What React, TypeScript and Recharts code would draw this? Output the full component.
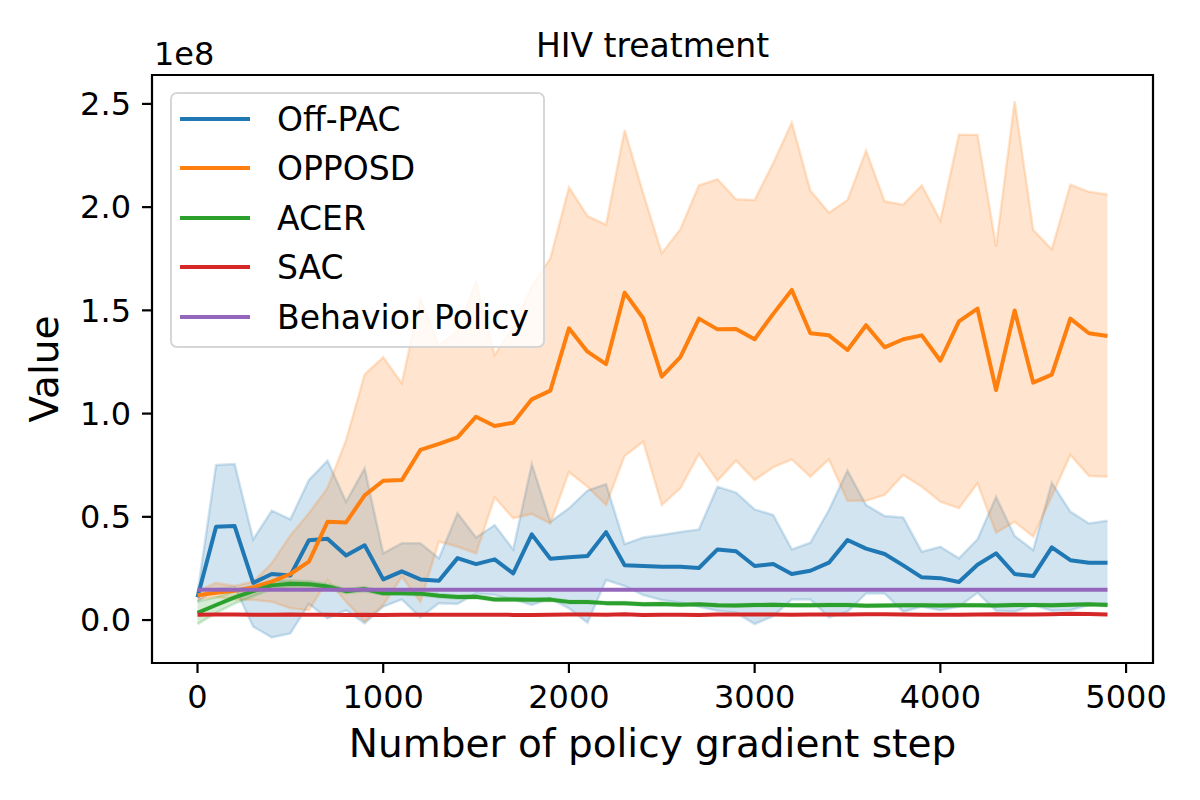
import React from 'react';
import {
  ComposedChart,
  Area,
  Line,
  XAxis,
  YAxis,
  ReferenceArea,
  ReferenceLine,
  Legend,
} from 'recharts';

// values in units of 1e8
const steps = [
  0, 100, 200, 300, 400, 500, 600, 700, 800, 900,
  1000, 1100, 1200, 1300, 1400, 1500, 1600, 1700, 1800, 1900,
  2000, 2100, 2200, 2300, 2400, 2500, 2600, 2700, 2800, 2900,
  3000, 3100, 3200, 3300, 3400, 3500, 3600, 3700, 3800, 3900,
  4000, 4100, 4200, 4300, 4400, 4500, 4600, 4700, 4800, 4900,
];

const offPacMean = [
  0.11, 0.452, 0.455, 0.18, 0.223, 0.216, 0.387, 0.394, 0.313, 0.362,
  0.197, 0.236, 0.197, 0.19, 0.3, 0.271, 0.294, 0.226, 0.415, 0.297,
  0.304, 0.31, 0.426, 0.265, 0.262, 0.258, 0.258, 0.252, 0.342, 0.333,
  0.262, 0.271, 0.223, 0.239, 0.278, 0.388, 0.346, 0.32, 0.265, 0.207,
  0.203, 0.184, 0.268, 0.323, 0.223, 0.213, 0.352, 0.29, 0.278, 0.278,
];
const offPacLow = [
  0.09, 0.15, 0.16, -0.032, -0.084, -0.065, 0.078, 0.008, 0.048, -0.016,
  0.065, 0.1, 0.013, 0.081, 0.078, 0.129, 0.121, 0.1, 0.073, 0.105,
  0.057, -0.013, 0.194, 0.165, 0.121, 0.097, 0.084, 0.065, 0.045, 0.036,
  -0.019, 0.019, 0.1, 0.1, 0.013, 0.04, 0.129, 0.129, 0.04, 0.065,
  0.048, 0.065, 0.132, 0.045, 0.04, 0.073, 0.045, 0.048, 0.073, 0.081,
];
const offPacHigh = [
  0.13, 0.751, 0.756, 0.391, 0.53, 0.488, 0.678, 0.772, 0.573, 0.735,
  0.323, 0.372, 0.372, 0.299, 0.517, 0.4, 0.46, 0.342, 0.756, 0.476,
  0.541, 0.627, 0.659, 0.368, 0.4, 0.412, 0.426, 0.439, 0.646, 0.617,
  0.536, 0.509, 0.342, 0.375, 0.533, 0.724, 0.557, 0.504, 0.497, 0.331,
  0.355, 0.299, 0.391, 0.597, 0.407, 0.339, 0.665, 0.525, 0.468, 0.481,
];

const opposdMean = [
  0.12, 0.132, 0.142, 0.158, 0.186, 0.223, 0.283, 0.476, 0.473, 0.604,
  0.675, 0.678, 0.824, 0.853, 0.885, 0.985, 0.94, 0.956, 1.069, 1.111,
  1.413, 1.3, 1.24, 1.586, 1.462, 1.179, 1.273, 1.46, 1.408, 1.41,
  1.36, 1.483, 1.599, 1.389, 1.379, 1.308, 1.428, 1.321, 1.36, 1.379,
  1.256, 1.447, 1.508, 1.114, 1.499, 1.15, 1.189, 1.46, 1.389, 1.376,
];
const opposdLow = [
  0.1, 0.113, 0.1, 0.097, 0.089, 0.057, 0.048, 0.194, 0.089, -0.008,
  0.073, 0.21, 0.089, 0.38, 0.355, 0.323, 0.594, 0.493, 0.514, 0.468,
  0.717, 0.646, 0.557, 0.795, 0.864, 0.557, 0.638, 0.804, 0.675, 0.772,
  0.678, 0.74, 0.778, 0.694, 0.778, 0.578, 0.578, 0.606, 0.703, 0.646,
  0.573, 0.541, 0.662, 0.423, 0.476, 0.404, 0.6, 0.8, 0.698, 0.694,
];
const opposdHigh = [
  0.14, 0.18, 0.165, 0.186, 0.275, 0.41, 0.517, 0.64, 0.872, 1.19,
  1.273, 1.147, 1.56, 1.33, 1.4, 1.64, 1.284, 1.42, 1.615, 1.752,
  2.096, 1.957, 1.915, 2.374, 2.067, 1.777, 1.893, 2.106, 2.135, 2.038,
  2.035, 2.213, 2.41, 2.08, 1.973, 2.035, 2.274, 2.028, 2.012, 2.106,
  1.935, 2.351, 2.35, 1.809, 2.513, 1.89, 1.796, 2.109, 2.074, 2.061,
];

const acerMean = [
  0.035, 0.073, 0.11, 0.14, 0.168, 0.176, 0.174, 0.163, 0.14, 0.15,
  0.13, 0.13, 0.128, 0.118, 0.112, 0.113, 0.1, 0.1, 0.098, 0.099,
  0.088, 0.087, 0.082, 0.081, 0.077, 0.078, 0.074, 0.076, 0.072, 0.071,
  0.073, 0.074, 0.072, 0.072, 0.073, 0.073, 0.069, 0.071, 0.072, 0.072,
  0.071, 0.072, 0.072, 0.071, 0.073, 0.073, 0.072, 0.074, 0.076, 0.073,
];
const acerLow = [
  -0.02, 0.035, 0.08, 0.115, 0.15, 0.16, 0.16, 0.15, 0.13, 0.14,
  0.122, 0.122, 0.12, 0.11, 0.105, 0.106, 0.093, 0.093, 0.091, 0.092,
  0.082, 0.081, 0.076, 0.075, 0.071, 0.072, 0.068, 0.07, 0.066, 0.065,
  0.067, 0.068, 0.066, 0.066, 0.067, 0.067, 0.063, 0.065, 0.066, 0.066,
  0.065, 0.066, 0.066, 0.065, 0.067, 0.067, 0.066, 0.068, 0.07, 0.067,
];
const acerHigh = [
  0.09, 0.11, 0.14, 0.165, 0.19, 0.192, 0.188, 0.175, 0.15, 0.16,
  0.138, 0.138, 0.136, 0.126, 0.119, 0.12, 0.107, 0.107, 0.105, 0.106,
  0.094, 0.093, 0.088, 0.087, 0.083, 0.084, 0.08, 0.082, 0.078, 0.077,
  0.079, 0.08, 0.078, 0.078, 0.079, 0.079, 0.075, 0.077, 0.078, 0.078,
  0.077, 0.078, 0.078, 0.077, 0.079, 0.079, 0.078, 0.08, 0.082, 0.079,
];

const sacMean = [
  0.026, 0.027, 0.027, 0.026, 0.026, 0.027, 0.026, 0.026, 0.025, 0.026,
  0.025, 0.026, 0.026, 0.026, 0.026, 0.026, 0.026, 0.025, 0.025, 0.026,
  0.027, 0.027, 0.026, 0.028, 0.025, 0.026, 0.026, 0.025, 0.027, 0.027,
  0.027, 0.027, 0.026, 0.027, 0.027, 0.027, 0.028, 0.028, 0.027, 0.026,
  0.026, 0.026, 0.027, 0.028, 0.027, 0.027, 0.028, 0.03, 0.029, 0.027,
];

const behaviorValue = 0.147;

const xTicks = [0, 1000, 2000, 3000, 4000, 5000];
const yTicks = [0, 0.5, 1, 1.5, 2, 2.5];

const series = [
  { name: 'Off-PAC', color: '#1f77b4' },
  { name: 'OPPOSD', color: '#ff7f0e' },
  { name: 'ACER', color: '#2ca02c' },
  { name: 'SAC', color: '#d62728' },
  { name: 'Behavior Policy', color: '#9467bd' },
];

const font = '"DejaVu Sans", sans-serif';

const data = steps.map((step, i) => ({
  step,
  offPac: offPacMean[i],
  offPacBand: [offPacLow[i], offPacHigh[i]],
  opposd: opposdMean[i],
  opposdBand: [opposdLow[i], opposdHigh[i]],
  acer: acerMean[i],
  acerBand: [acerLow[i], acerHigh[i]],
  sac: sacMean[i],
}));

function LegendBox() {
  return (
    <div
      style={{
        position: 'relative',
        width: 375,
        height: 256,
        boxSizing: 'border-box',
        border: '2px solid rgba(204,204,204,0.8)',
        borderRadius: 7,
        background: 'rgba(255,255,255,0.8)',
        fontFamily: font,
        fontSize: 33,
        color: '#000',
      }}
    >
      {series.map((s, i) => {
        const center = 25 + i * 49.4;
        return (
          <div key={s.name}>
            <div
              style={{
                position: 'absolute',
                left: 8,
                top: center - 2,
                width: 70,
                height: 4,
                background: s.color,
              }}
            />
            <div
              style={{
                position: 'absolute',
                left: 105,
                top: center - 16,
                lineHeight: '33px',
                whiteSpace: 'nowrap',
              }}
            >
              {s.name}
            </div>
          </div>
        );
      })}
    </div>
  );
}

const band = (key: string, color: string) => (
  <Area
    key={key}
    dataKey={key}
    type="linear"
    stroke={color}
    strokeOpacity={0.2}
    strokeWidth={2.5}
    fill={color}
    fillOpacity={0.2}
    dot={false}
    activeDot={false}
    isAnimationActive={false}
  />
);

const mean = (key: string, color: string) => (
  <Line
    key={key}
    dataKey={key}
    type="linear"
    stroke={color}
    strokeWidth={4}
    strokeLinejoin="round"
    dot={false}
    activeDot={false}
    isAnimationActive={false}
  />
);

export default function App() {
  return (
    <div
      style={{
        position: 'absolute',
        left: 0,
        top: 0,
        width: 1200,
        height: 800,
        background: '#fff',
      }}
    >
      <ComposedChart
        width={1200}
        height={800}
        data={data}
        margin={{ top: 75, right: 47, bottom: 77, left: 0 }}
      >
        <XAxis
          dataKey="step"
          type="number"
          domain={[-245, 5145]}
          allowDataOverflow
          ticks={xTicks}
          interval={0}
          height={60}
          axisLine={false}
          tickLine={{ stroke: '#000', strokeWidth: 2.2 }}
          tickSize={10}
          tickMargin={12}
          tick={{ fill: '#000', fontSize: 32, fontFamily: font }}
        />
        <YAxis
          type="number"
          domain={[-0.208, 2.64]}
          allowDataOverflow
          ticks={yTicks}
          interval={0}
          width={152}
          axisLine={false}
          tickLine={{ stroke: '#000', strokeWidth: 2.2 }}
          tickSize={10}
          tickMargin={11}
          tickFormatter={(v: number) => v.toFixed(1)}
          tick={{ fill: '#000', fontSize: 32, fontFamily: font }}
        />
        {band('offPacBand', '#1f77b4')}
        {mean('offPac', '#1f77b4')}
        {band('opposdBand', '#ff7f0e')}
        {mean('opposd', '#ff7f0e')}
        {band('acerBand', '#2ca02c')}
        {mean('acer', '#2ca02c')}
        {mean('sac', '#d62728')}
        <ReferenceLine
          segment={[
            { x: steps[0], y: behaviorValue },
            { x: steps[steps.length - 1], y: behaviorValue },
          ]}
          stroke="#9467bd"
          strokeWidth={4}
        />
        <ReferenceArea
          x1={-245}
          x2={5145}
          y1={-0.208}
          y2={2.64}
          fill="none"
          stroke="#000"
          strokeWidth={2.2}
          ifOverflow="visible"
        />
        <Legend
          layout="vertical"
          align="center"
          verticalAlign="middle"
          content={() => <LegendBox />}
          wrapperStyle={{ left: 170, top: 92, width: 375, height: 256 }}
        />
      </ComposedChart>
      <svg
        width={1200}
        height={800}
        style={{ position: 'absolute', left: 0, top: 0, pointerEvents: 'none' }}
        fontFamily={font}
      >
        <text x={652.5} y={57} fontSize={33} textAnchor="middle" fill="#000">
          HIV treatment
        </text>
        <text x={154} y={65} fontSize={32} fill="#000">
          1e8
        </text>
        <text x={652.5} y={757} fontSize={39} textAnchor="middle" fill="#000">
          Number of policy gradient step
        </text>
        <text
          transform="translate(58,369) rotate(-90)"
          fontSize={39}
          textAnchor="middle"
          fill="#000"
        >
          Value
        </text>
      </svg>
    </div>
  );
}
